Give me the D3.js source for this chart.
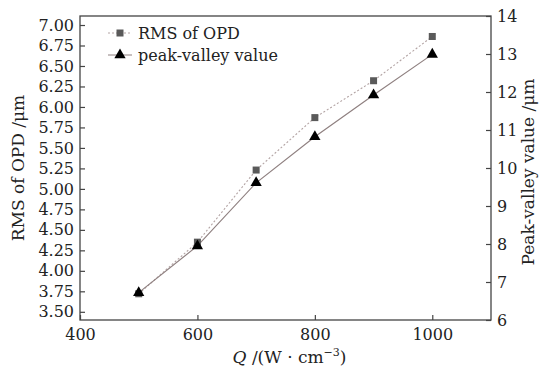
<!DOCTYPE html>
<html>
<head>
<meta charset="utf-8">
<script src="https://cdn.jsdelivr.net/npm/d3@7"></script>
<style>
  body { margin: 0; background: #fff; }
  text { font-family: "DejaVu Serif", serif; fill: #222; }
</style>
</head>
<body>
<div id="chart"></div>
<script>
const WIDTH = 542;
const HEIGHT = 374;

// data
const q_values = [500, 600, 700, 800, 900, 1000];
const rms_values = [3.72, 4.35, 5.23, 5.87, 6.32, 6.86];
const pv_values = [6.72, 7.95, 9.61, 10.82, 11.92, 12.99];
const x_ticks = [400, 600, 800, 1000];
const left_ticks = [3.5, 3.75, 4.0, 4.25, 4.5, 4.75, 5.0, 5.25, 5.5, 5.75, 6.0, 6.25, 6.5, 6.75, 7.0];
const right_ticks = [6, 7, 8, 9, 10, 11, 12, 13, 14];

const margin = {top: 16, right: 51, bottom: 54, left: 80};
const plotW = WIDTH - margin.left - margin.right;
const plotH = HEIGHT - margin.top - margin.bottom;

let svg = d3.select("#chart")
    .append("svg")
    .attr("width", WIDTH)
    .attr("height", HEIGHT);

let g = svg.append("g")
    .attr("transform", `translate(${margin.left},${margin.top})`);

let x = d3.scaleLinear().domain([400, 1100]).range([0, plotW]);
let yLeft = d3.scaleLinear().domain([3.4, 7.11]).range([plotH, 0]);
let yRight = d3.scaleLinear().domain([6, 14]).range([plotH, 0]);

// frame
g.append("rect")
    .attr("width", plotW)
    .attr("height", plotH)
    .attr("fill", "none")
    .attr("stroke", "#444")
    .attr("stroke-width", 1.3);

// axes, ticks pointing inward
let xAxis = g.append("g")
    .attr("transform", `translate(0,${plotH})`)
    .call(d3.axisBottom(x).tickValues(x_ticks).tickSize(-5).tickPadding(9).tickFormat(d3.format("d")));

let leftAxis = g.append("g")
    .call(d3.axisLeft(yLeft).tickValues(left_ticks).tickSize(-5).tickPadding(6).tickFormat(d3.format(".2f")));

let rightAxis = g.append("g")
    .attr("transform", `translate(${plotW},0)`)
    .call(d3.axisRight(yRight).tickValues(right_ticks).tickSize(-5).tickPadding(6).tickFormat(d3.format("d")));

[xAxis, leftAxis, rightAxis].forEach(a => {
    a.select(".domain").remove();
    a.selectAll(".tick line").attr("stroke", "#444").attr("stroke-width", 1.2);
    a.selectAll(".tick text")
        .style("font-size", "16px")
        .style("font-family", "'DejaVu Serif', serif")
        .attr("fill", "#1a1a1a");
});

// lines
let rmsPoints = q_values.map((q, i) => [x(q), yLeft(rms_values[i])]);
let pvPoints = q_values.map((q, i) => [x(q), yRight(pv_values[i])]);

g.append("path")
    .attr("d", d3.line()(rmsPoints))
    .attr("fill", "none")
    .attr("stroke", "#b3a4a4")
    .attr("stroke-width", 1.1)
    .attr("stroke-dasharray", "2,2");

g.append("path")
    .attr("d", d3.line()(pvPoints))
    .attr("fill", "none")
    .attr("stroke", "#8f8080")
    .attr("stroke-width", 1.2);

// markers
g.selectAll("rect.rms")
    .data(rmsPoints)
    .enter()
    .append("rect")
    .attr("class", "rms")
    .attr("x", d => d[0] - 3.5)
    .attr("y", d => d[1] - 3.5)
    .attr("width", 7)
    .attr("height", 7)
    .attr("fill", "#5a5a5a");

let tri = d3.symbol().type(d3.symbolTriangle).size(55);
g.selectAll("path.pv")
    .data(pvPoints)
    .enter()
    .append("path")
    .attr("class", "pv")
    .attr("d", tri)
    .attr("transform", d => `translate(${d[0]},${d[1]})`)
    .attr("fill", "#000");

// legend
let legend = g.append("g").attr("transform", "translate(28,17)");
legend.append("line")
    .attr("x1", 0).attr("x2", 24).attr("y1", 0).attr("y2", 0)
    .attr("stroke", "#b3a4a4").attr("stroke-dasharray", "2,2");
legend.append("rect")
    .attr("x", 8.5).attr("y", -3.5).attr("width", 7).attr("height", 7)
    .attr("fill", "#5a5a5a");
legend.append("text")
    .attr("x", 30).attr("y", 5.5)
    .style("font-size", "16px")
    .text("RMS of OPD");

legend.append("line")
    .attr("x1", 0).attr("x2", 24).attr("y1", 22).attr("y2", 22)
    .attr("stroke", "#8f8080");
legend.append("path")
    .attr("d", tri)
    .attr("transform", "translate(12,22)")
    .attr("fill", "#000");
legend.append("text")
    .attr("x", 30).attr("y", 27.5)
    .style("font-size", "16px")
    .text("peak-valley value");

// axis titles
svg.append("text")
    .attr("transform", `translate(24,${margin.top + plotH / 2}) rotate(-90)`)
    .attr("text-anchor", "middle")
    .style("font-size", "17px")
    .text("RMS of OPD /μm");

svg.append("text")
    .attr("transform", `translate(${WIDTH - 8},${margin.top + plotH / 2 + 4}) rotate(-90)`)
    .attr("text-anchor", "middle")
    .style("font-size", "17px")
    .text("Peak-valley value /μm");

let xTitle = svg.append("text")
    .attr("x", margin.left + plotW / 2 + 4)
    .attr("y", HEIGHT - 11)
    .attr("text-anchor", "middle")
    .style("font-size", "17px");
xTitle.append("tspan").style("font-style", "italic").text("Q");
xTitle.append("tspan").text(" /(W · cm");
xTitle.append("tspan").attr("dy", -7).style("font-size", "11px").text("−3");
xTitle.append("tspan").attr("dy", 7).text(")");
</script>
</body>
</html>
